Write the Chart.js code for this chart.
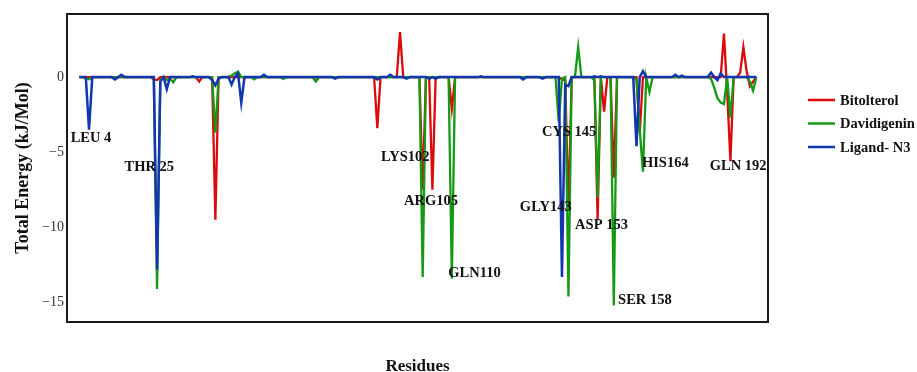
<!DOCTYPE html>
<html>
<head>
<meta charset="utf-8">
<title>Total energy per residue</title>
<script src="https://cdn.jsdelivr.net/npm/chart.js@4.4.0/dist/chart.umd.min.js"></script>
<style>
  html, body { margin: 0; padding: 0; background: #fff; }
  #wrap { width: 917px; height: 372px; position: relative; }
</style>
</head>
<body>
<div id="wrap"><canvas id="energyChart"></canvas></div>
<script>
// ---- data (residue index 1..210) ----
const residues = Array.from({ length: 210 }, (_, i) => i + 1);

const bitolterol = [
  0, 0, 0, 0, 0, 0, 0, 0, 0, 0,
  0, 0, 0, 0, 0, 0, 0, 0, 0, 0,
  0, 0, 0, -0.15, -0.2, 0, 0, 0, 0, 0,
  0, 0, 0, 0, 0, 0, 0, -0.3, 0, 0,
  0, 0, -9.5, 0, 0, 0, 0, 0, 0, 0,
  0, 0, 0, 0, 0, 0, 0, 0, 0, 0,
  0, 0, 0, 0, 0, 0, 0, 0, 0, 0,
  0, 0, 0, -0.25, 0, 0, 0, 0, 0, 0,
  0, 0, 0, 0, 0, 0, 0, 0, 0, 0,
  0, 0, -3.4, 0, 0, 0, 0, 0, 0, 3.0,
  0, 0, 0, 0, 0, 0, -7.5, 0, 0, -7.5,
  0, 0, 0, 0, 0, -2.1, 0, 0, 0, 0,
  0, 0, 0, 0, 0, 0, 0, 0, 0, 0,
  0, 0, 0, 0, 0, 0, 0, 0, 0, 0,
  0, 0, 0, 0, 0, 0, 0, 0, 0, -0.15,
  -0.2, -8.8, 0, 0, 0, 0, 0, 0, 0, 0,
  -9.5, 0, -2.3, 0, 0, -6.7, 0, 0, 0, 0,
  0, 0, 0, -3.7, 0, 0, 0, 0, 0, 0,
  0, 0, 0, 0, 0, 0, 0, 0, 0, 0,
  0, 0, 0, 0, 0, 0, 0, 0, 0, 2.9,
  -1.0, -5.6, 0, 0, 0.3, 2.0, 0.4, -0.6, -0.3, 0
];

const davidigenin = [
  0, 0, -0.1, -0.15, 0, 0, 0, 0, 0, 0,
  0, 0, 0, 0, 0, 0, 0, 0, 0, 0,
  0, 0, 0, 0, -14.1, -0.2, 0, -0.2, -0.1, -0.35,
  0, 0, 0, 0, 0, 0, 0, 0, 0, 0,
  0, 0, -3.7, 0, 0, 0, 0, 0.1, 0.25, 0.35,
  0, 0, 0, 0, -0.15, 0, 0, 0, 0, 0,
  0, 0, 0, -0.12, 0, 0, 0, 0, 0, 0,
  0, 0, 0, -0.3, 0, 0, 0, 0, 0, 0,
  0, 0, 0, 0, 0, 0, 0, 0, 0, 0,
  0, 0, 0, 0, 0, 0, 0, 0, 0, 0,
  0, 0, 0, 0, 0, 0, -13.3, 0, 0, 0,
  0, 0, 0, 0, 0, -13.4, 0, 0, 0, 0,
  0, 0, 0, 0, 0, 0, 0, 0, 0, 0,
  0, 0, 0, 0, 0, 0, 0, 0, 0, 0,
  0, 0, 0, 0, 0, 0, 0, 0, -3.0, -0.1,
  0, -14.6, 0, 0, 2.0, 0, 0, 0, 0, -0.2,
  -8.0, 0, 0, 0, 0, -15.2, 0, 0, 0, 0,
  0, 0, -0.2, -3.5, -6.3, 0, -1.0, 0, 0, 0,
  0, 0, 0, 0, 0, 0, 0, 0, 0, 0,
  0, 0, 0, 0, 0, -0.1, -0.7, -1.4, -1.7, -1.8,
  0, -2.7, 0, 0, 0, 0, 0, -0.3, -0.9, 0
];

const ligandN3 = [
  0, 0, 0, -3.5, 0, 0, 0, 0, 0, 0,
  0, -0.15, 0, 0.15, 0, 0, 0, 0, 0, 0,
  0, 0, 0, 0, -12.8, -0.3, 0, -0.8, 0, 0,
  0, 0, 0, 0, 0, 0.05, 0, 0, 0, 0,
  0, -0.2, -0.55, -0.1, 0, 0, 0, -0.5, 0, 0.25,
  -1.7, 0, 0, 0, 0, 0, 0, 0.15, 0, 0,
  0, 0, 0, 0, 0, 0, 0, 0, 0, 0,
  0, 0, 0, 0, 0, 0, 0, 0, 0, -0.1,
  0, 0, 0, 0, 0, 0, 0, 0, 0, 0,
  0, 0, -0.15, 0, 0, 0, 0.15, 0, 0, 0,
  0, -0.1, 0, 0, 0, 0, 0, 0, -0.1, 0,
  -0.1, 0, 0, 0, 0, 0, 0, 0, 0, 0,
  0, 0, 0, 0, 0.05, 0, 0, 0, 0, 0,
  0, 0, 0, 0, 0, 0, 0, -0.15, 0, 0,
  0, 0, 0, -0.1, 0, 0, 0, 0, 0, -13.3,
  -0.5, -0.6, 0, 0, 0, 0, 0, 0, 0, 0.05,
  0, 0.05, 0, 0, 0, 0, 0, 0, 0, 0,
  0, 0, -4.6, 0, 0.4, 0, 0, 0, 0, 0,
  0, 0, 0, 0, 0.15, 0, 0.1, 0, 0, 0,
  0, 0, 0, 0, 0, 0.3, 0, -0.2, 0.25, 0,
  0, 0, 0, 0, 0, 0, 0, 0, 0, 0
];

const yTicks = [0, -5, -10, -15];

// residue callouts (text, residue index, energy)
const siteNames = ['LEU 4', 'THR 25', 'LYS102', 'ARG105', 'GLN110', 'CYS 145', 'GLY143', 'ASP 153', 'SER 158', 'HIS164', 'GLN 192'];
const siteX     = [4.6, 22.6, 101.6, 109.6, 123.0, 152.2, 145.0, 162.2, 175.6, 181.9, 204.4];
const siteY     = [-4.1, -6.0, -5.35, -8.25, -13.05, -3.65, -8.65, -9.85, -14.85, -5.75, -5.95];

const RED = '#dc0a0a';
const GREEN = '#149a14';
const BLUE = '#1236b0';
const SERIF = "'Liberation Serif', 'Times New Roman', serif";

// frame around the plot area
const framePlugin = {
  id: 'frame',
  afterDraw(chart) {
    const { ctx, chartArea: a } = chart;
    ctx.save();
    ctx.strokeStyle = '#1a1a1a';
    ctx.lineWidth = 2;
    ctx.strokeRect(a.left, a.top, a.right - a.left, a.bottom - a.top);
    ctx.restore();
  }
};

// residue name callouts, placed through the scales
const sitePlugin = {
  id: 'sites',
  afterDatasetsDraw(chart) {
    const { ctx, scales } = chart;
    ctx.save();
    ctx.font = `bold 14.5px ${SERIF}`;
    ctx.fillStyle = '#111';
    ctx.textAlign = 'center';
    ctx.textBaseline = 'middle';
    siteNames.forEach((name, i) => {
      ctx.fillText(name, scales.x.getPixelForValue(siteX[i]), scales.y.getPixelForValue(siteY[i]));
    });
    ctx.restore();
  }
};

// legend to the right of the frame
const legendPlugin = {
  id: 'sideLegend',
  afterDraw(chart) {
    const { ctx, chartArea: a } = chart;
    const x0 = a.right + 40;
    ctx.save();
    ctx.font = `bold 14.5px ${SERIF}`;
    ctx.textBaseline = 'middle';
    chart.data.datasets.forEach((ds, i) => {
      const y = 100 + i * 23.5;
      ctx.strokeStyle = ds.borderColor;
      ctx.lineWidth = 2.5;
      ctx.beginPath();
      ctx.moveTo(x0, y);
      ctx.lineTo(x0 + 27, y);
      ctx.stroke();
      ctx.fillStyle = '#111';
      ctx.fillText(ds.label, x0 + 32, y + 1);
    });
    ctx.restore();
  }
};

const ctx = document.getElementById('energyChart');

new Chart(ctx, {
  type: 'line',
  data: {
    labels: residues,
    datasets: [
      { label: 'Bitolterol', data: bitolterol, borderColor: RED, borderWidth: 2.3, pointRadius: 0, order: 3 },
      { label: 'Davidigenin', data: davidigenin, borderColor: GREEN, borderWidth: 2.3, pointRadius: 0, order: 2 },
      { label: 'Ligand- N3', data: ligandN3, borderColor: BLUE, borderWidth: 2.5, pointRadius: 0, order: 1 }
    ]
  },
  options: {
    responsive: true,
    maintainAspectRatio: false,
    animation: false,
    layout: { padding: { top: 14, right: 149, left: 0, bottom: 0 } },
    plugins: {
      legend: { display: false },
      tooltip: { enabled: false }
    },
    scales: {
      x: {
        type: 'linear',
        min: -2.8,
        max: 213.6,
        grid: { display: false, drawTicks: false },
        border: { display: false },
        ticks: { display: false },
        title: {
          display: true,
          text: 'Residues',
          color: '#111',
          font: { family: SERIF, size: 17, weight: 'bold', lineHeight: 0.65 },
          padding: 0
        },
        afterFit(scale) { scale.height = 50; }
      },
      y: {
        min: -16.3,
        max: 4.2,
        afterBuildTicks(scale) { scale.ticks = yTicks.map(v => ({ value: v })); },
        grid: { display: false, drawTicks: false },
        border: { display: false },
        ticks: {
          padding: 3,
          color: '#333',
          font: { family: SERIF, size: 14 },
          callback: v => (v < 0 ? '\u2212' + Math.abs(v) : String(v))
        },
        title: {
          display: true,
          text: 'Total Energy (kJ/Mol)',
          color: '#111',
          font: { family: SERIF, size: 18, weight: 'bold' },
          padding: { top: 13, bottom: 0 }
        },
        afterFit(scale) { scale.width = 67; }
      }
    }
  },
  plugins: [framePlugin, sitePlugin, legendPlugin]
});
</script>
</body>
</html>
